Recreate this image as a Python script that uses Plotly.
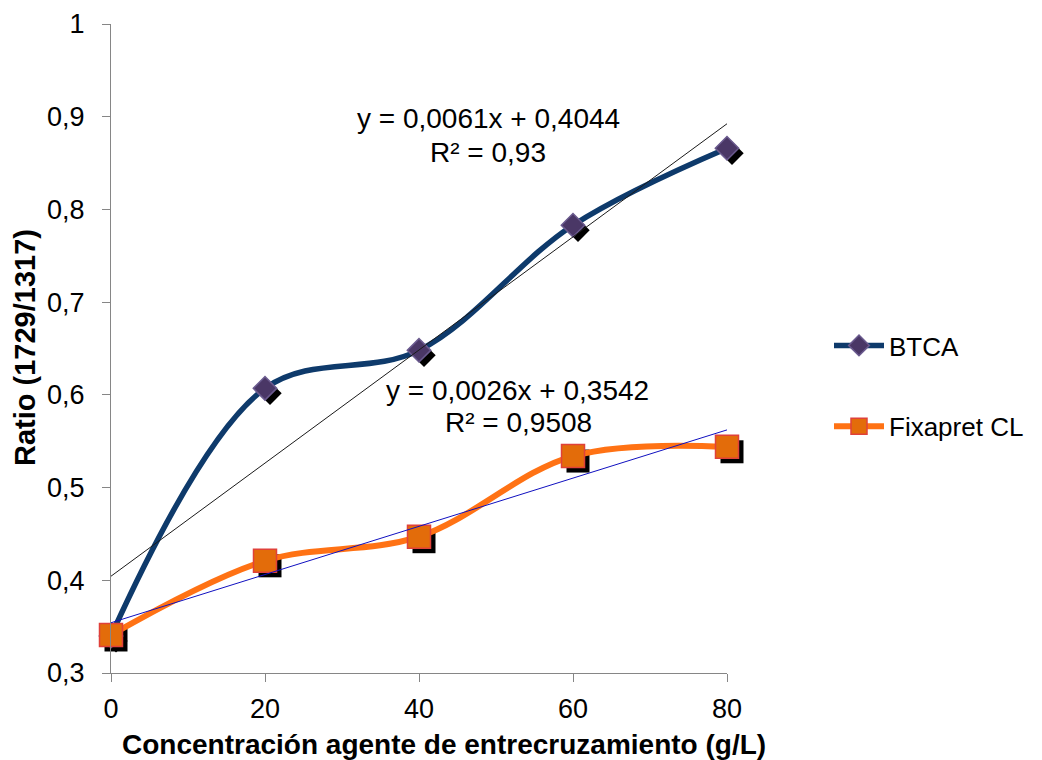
import plotly.graph_objects as go

# ---- data ----
x_conc = [0, 20, 40, 60, 80]
btca = [0.340, 0.607, 0.648, 0.783, 0.866]
fixapret = [0.341, 0.421, 0.447, 0.534, 0.544]
series_names = ["BTCA", "Fixapret CL"]
trend_btca = (0.0061, 0.4044)
trend_fix = (0.0026, 0.3542)
trend_labels_btca = ["y = 0,0061x + 0,4044", "R² = 0,93"]
trend_labels_fix = ["y = 0,0026x + 0,3542", "R² = 0,9508"]
x_ticks = [0, 20, 40, 60, 80]
y_ticks = [0.3, 0.4, 0.5, 0.6, 0.7, 0.8, 0.9, 1.0]
y_ticktext = ["0,3", "0,4", "0,5", "0,6", "0,7", "0,8", "0,9", "1"]

# ---- layout geometry ----
W, H = 1042, 760
ML, MR, MT, MB = 111, 310, 24, 82
PW = W - ML - MR
PH = H - MT - MB
SH = 5  # shadow offset px
sx = SH / PW
sy = SH / PH

FONT = "Liberation Sans, Arial, sans-serif"
AXC = "#868686"

fig = go.Figure()

# shadows (subplot x/y, shifted)
fig.add_trace(go.Scatter(x=x_conc, y=btca, mode="markers", xaxis="x", yaxis="y",
                         marker=dict(symbol="diamond", size=18, color="black"),
                         showlegend=False, cliponaxis=False, hoverinfo="skip"))
fig.add_trace(go.Scatter(x=x_conc, y=fixapret, mode="markers", xaxis="x", yaxis="y",
                         marker=dict(symbol="square", size=23, color="black"),
                         showlegend=False, cliponaxis=False, hoverinfo="skip"))

# main series
fig.add_trace(go.Scatter(x=x_conc, y=btca, mode="lines+markers", name=series_names[0],
                         xaxis="x2", yaxis="y2", legendgroup="g1",
                         line=dict(color="#0E3A6B", width=5.5, shape="spline", smoothing=1),
                         marker=dict(symbol="diamond", size=18, color="#4A3766",
                                     line=dict(color="#6A5A8E", width=1.5)),
                         cliponaxis=False))
fig.add_trace(go.Scatter(x=x_conc, y=fixapret, mode="lines+markers", name=series_names[1],
                         xaxis="x2", yaxis="y2", legendgroup="g2",
                         line=dict(color="#FF7214", width=6, shape="spline", smoothing=1),
                         marker=dict(symbol="square", size=23, color="#E36C0A",
                                     line=dict(color="#E0413A", width=1.5)),
                         cliponaxis=False))

# trendlines
tx = [x_ticks[0], x_ticks[-1]]
fig.add_trace(go.Scatter(x=tx, y=[trend_btca[0] * v + trend_btca[1] for v in tx],
                         mode="lines", xaxis="x3", yaxis="y3",
                         line=dict(color="#1a1a1a", width=1), showlegend=False, hoverinfo="skip"))
fig.add_trace(go.Scatter(x=tx, y=[trend_fix[0] * v + trend_fix[1] for v in tx],
                         mode="lines", xaxis="x3", yaxis="y3",
                         line=dict(color="#1010C0", width=1), showlegend=False, hoverinfo="skip"))

hidden = dict(visible=False, range=[0, 80], fixedrange=True)
hidden_y = dict(visible=False, range=[0.3, 1.0], fixedrange=True)

fig.update_layout(
    width=W, height=H,
    margin=dict(l=ML, r=MR, t=MT, b=MB, autoexpand=False),
    paper_bgcolor="white", plot_bgcolor="rgba(0,0,0,0)",
    font=dict(family=FONT, size=27, color="black"),
    xaxis=dict(hidden, domain=[sx, 1], anchor="y"),
    yaxis=dict(hidden_y, domain=[0, 1 - sy], anchor="x"),
    xaxis2=dict(domain=[0, 1 - sx], anchor="y2", range=[0, 80], tickvals=x_ticks,
                showgrid=False, zeroline=False, showline=True, linecolor=AXC, linewidth=1,
                ticks="outside", ticklen=8, tickcolor=AXC, ticklabelstandoff=4,
                tickfont=dict(size=27, color="black")),
    yaxis2=dict(domain=[sy, 1], anchor="x2", range=[0.3, 1.0], tickvals=y_ticks,
                ticktext=y_ticktext, showgrid=False, zeroline=False, showline=True,
                linecolor=AXC, linewidth=1, ticks="outside", ticklen=8, tickcolor=AXC,
                ticklabelstandoff=12, tickfont=dict(size=27, color="black")),
    xaxis3=dict(hidden, domain=[0, 1 - sx], anchor="y3"),
    yaxis3=dict(hidden_y, domain=[sy, 1], anchor="x3"),
    legend=dict(x=(829 - ML) / PW, y=(MT + PH - 322) / PH, xanchor="left", yanchor="top",
                font=dict(size=26, color="black"), tracegroupgap=44, itemwidth=50,
                bgcolor="rgba(0,0,0,0)"),
    showlegend=True,
)


def px_to_paper(px, py):
    return (px - ML) / PW, (MT + PH - py) / PH


anns = [
    (trend_labels_btca[0], 488, 118),
    (trend_labels_btca[1], 488, 152),
    (trend_labels_fix[0], 517, 390),
    (trend_labels_fix[1], 518, 422),
]
for txt, px, py in anns:
    ax_, ay_ = px_to_paper(px, py)
    fig.add_annotation(text=txt, x=ax_, y=ay_, xref="paper", yref="paper",
                       xanchor="center", yanchor="middle", showarrow=False,
                       font=dict(size=28, color="black", family=FONT))

tx_, ty_ = px_to_paper(444, 744)
fig.add_annotation(text="<b>Concentración agente de entrecruzamiento (g/L)</b>",
                   x=tx_, y=ty_, xref="paper", yref="paper", xanchor="center",
                   yanchor="middle", showarrow=False,
                   font=dict(size=28, color="black", family=FONT))
yx_, yy_ = px_to_paper(25, 348)
fig.add_annotation(text="<b>Ratio (1729/1317)</b>", x=yx_, y=yy_, xref="paper",
                   yref="paper", xanchor="center", yanchor="middle", textangle=-90,
                   showarrow=False, font=dict(size=29, color="black", family=FONT))

fig.write_html("out.html", config={"displayModeBar": False},
               post_script="document.body.style.margin='0';")
